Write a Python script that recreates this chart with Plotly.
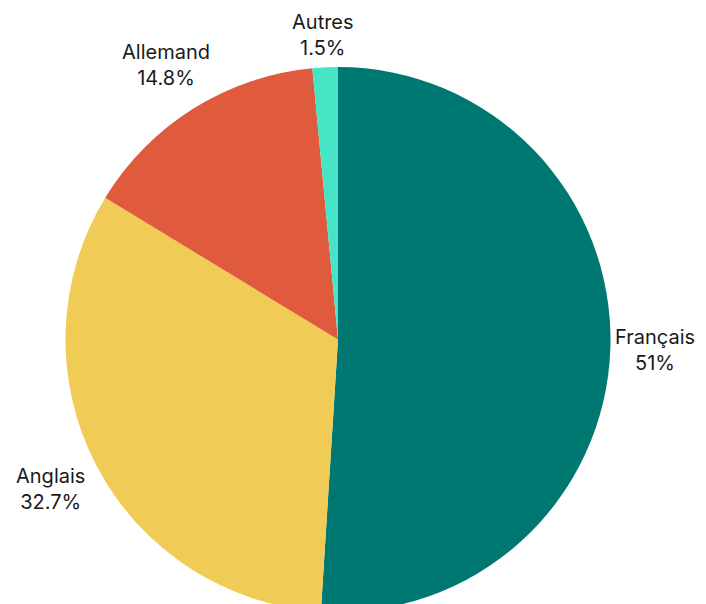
import math
import plotly.graph_objects as go

labels = ["Français", "Anglais", "Allemand", "Autres"]
values = [51, 32.7, 14.8, 1.5]
text_values = ["51%", "32.7%", "14.8%", "1.5%"]
colors = ["#007872", "#F0CB55", "#E05A3D", "#45E5C5"]

W, H = 706, 604
M = dict(l=0, r=46, t=59, b=0)
plot_w = W - M["l"] - M["r"]
plot_h = H - M["t"] - M["b"]
radius_px = min(plot_w, plot_h) / 2
label_dist = 1.19          # label centre distance, in pie radii
max_label_y = 1.058        # keep top labels inside the canvas (paper units)
max_label_x = 0.981        # keep right labels inside the visible area

fig = go.Figure(go.Pie(
    labels=labels,
    values=values,
    textinfo="none",
    sort=False,
    direction="clockwise",
    rotation=0,
    marker=dict(colors=colors, line=dict(width=0)),
    showlegend=False,
    hoverinfo="label+percent",
))

total = sum(values)
cum = 0.0
annotations = []
for lab, val, txt in zip(labels, values, text_values):
    mid = (cum + val / 2) / total * 2 * math.pi
    cum += val
    dx = math.sin(mid)
    dy = math.cos(mid)
    x = 0.5 + label_dist * radius_px * dx / plot_w
    y = 0.5 + label_dist * radius_px * dy / plot_h
    x = min(x, max_label_x)
    y = min(y, max_label_y)
    annotations.append(dict(
        x=x, y=y, xref="paper", yref="paper",
        text=f"{lab}<br>{txt}", showarrow=False,
        xanchor="center", yanchor="middle", align="center",
        font=dict(family="Inter, sans-serif", size=20, color="#1a1a1a"),
    ))

fig.update_layout(
    width=W, height=H,
    margin=M,
    paper_bgcolor="white",
    plot_bgcolor="white",
    annotations=annotations,
)

fig.write_html("out.html")
